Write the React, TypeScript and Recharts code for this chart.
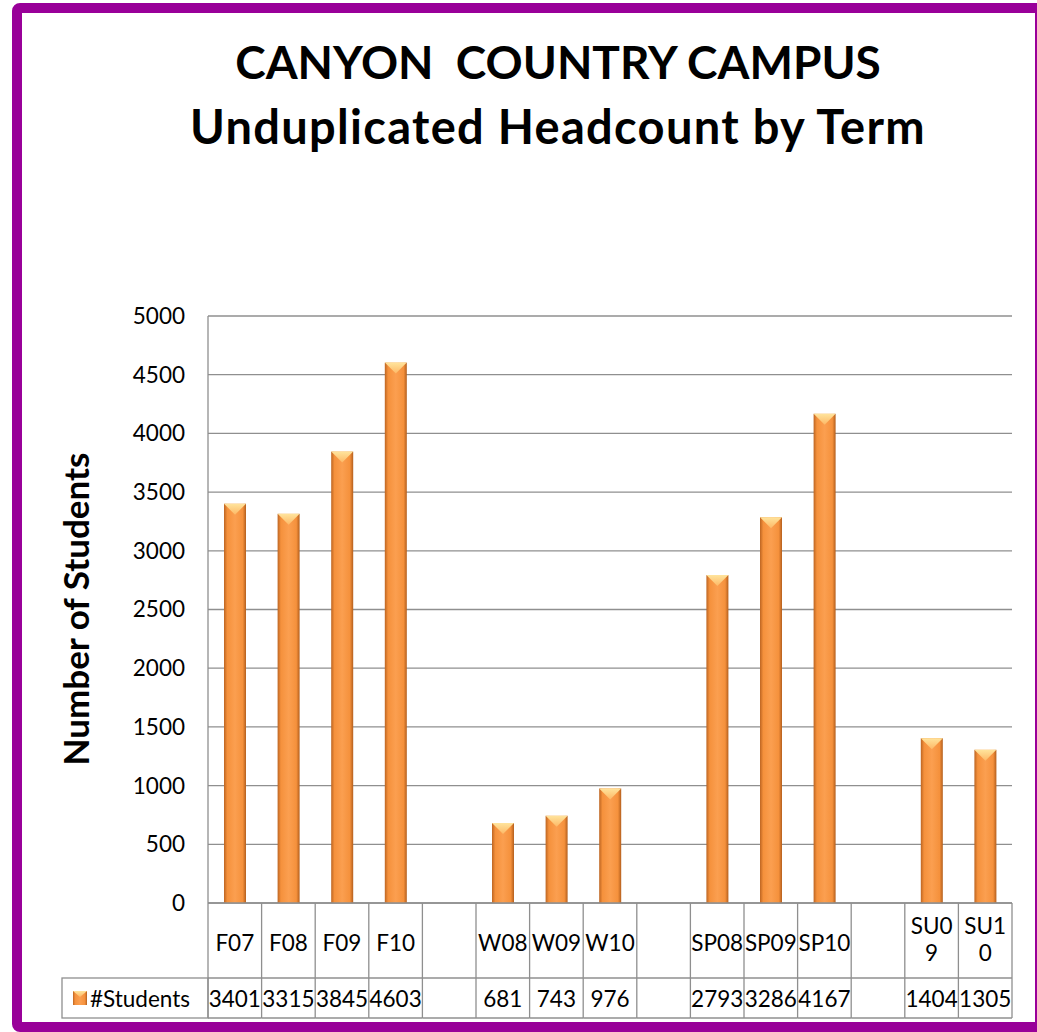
import { Bar, BarChart, CartesianGrid, XAxis, YAxis } from "recharts";

const TERMS = ["F07", "F08", "F09", "F10", "", "W08", "W09", "W10", "", "SP08", "SP09", "SP10", "", "SU09", "SU10"];
const STUDENTS: (number | null)[] = [3401, 3315, 3845, 4603, null, 681, 743, 976, null, 2793, 3286, 4167, null, 1404, 1305];
const Y_TICKS = [0, 500, 1000, 1500, 2000, 2500, 3000, 3500, 4000, 4500, 5000];
const SERIES_NAME = "#Students";

const W = 1037;
const H = 1032;
const Y_W = 208;
const MARGIN = { top: 316, right: 25, bottom: 14, left: 0 };
const BAND = (W - MARGIN.left - Y_W - MARGIN.right) / TERMS.length;
const ROW1 = 75; // category row
const ROW2 = 40; // value row
const LEGEND_X = 62;

const FONT = "Lato, 'Open Sans', sans-serif";
const LINE = "#8f8f8f";
const PURPLE = "#990099";
const TXT = 22.5;

const rows = TERMS.map((term, i) => ({ term, students: STUDENTS[i] }));

// Excel wraps labels that don't fit their cell
const wrap = (s: string) => (s.startsWith("SU") ? [s.slice(0, 3), s.slice(3)] : [s]);

function BevelBar(props: any) {
  const { x, y, width, height } = props;
  if (!height || height <= 0) return null;
  const tip = Math.min(11, height / 2);
  return (
    <g>
      <rect x={x} y={y} width={width} height={height} fill="url(#barBody)" />
      <polygon points={`${x},${y} ${x + width},${y} ${x + width / 2},${y + tip}`} fill="url(#barTop)" />
    </g>
  );
}

function TableTick(props: any) {
  const { x, y, payload } = props;
  const i = payload.index ?? props.index;
  const l = x - BAND / 2;
  const r = x + BAND / 2;
  const v = STUDENTS[i];
  const lines = wrap(String(payload.value));
  const txt = { fontFamily: FONT, fontSize: TXT, fill: "#000", textAnchor: "middle" as const };
  return (
    <g>
      <line x1={l} x2={l} y1={y} y2={y + ROW1 + ROW2} stroke={LINE} strokeWidth={1.3} />
      {i === TERMS.length - 1 && <line x1={r} x2={r} y1={y} y2={y + ROW1 + ROW2} stroke={LINE} strokeWidth={1.3} />}
      <line x1={l} x2={r} y1={y + ROW1} y2={y + ROW1} stroke={LINE} strokeWidth={1.3} />
      <line x1={l} x2={r} y1={y + ROW1 + ROW2} y2={y + ROW1 + ROW2} stroke={LINE} strokeWidth={1.3} />
      {lines.length === 1 ? (
        <text {...txt} x={x} y={y + 39} dominantBaseline="central">{lines[0]}</text>
      ) : (
        <>
          <text {...txt} x={x} y={y + 22} dominantBaseline="central">{lines[0]}</text>
          <text {...txt} x={x} y={y + 49} dominantBaseline="central">{lines[1]}</text>
        </>
      )}
      {v != null && (
        <text {...txt} x={x} y={y + ROW1 + 20} dominantBaseline="central">{v}</text>
      )}
      {i === 0 && (
        <g>
          <rect x={LEGEND_X} y={y + ROW1} width={l - LEGEND_X} height={ROW2} fill="none" stroke={LINE} strokeWidth={1.3} />
          <rect x={LEGEND_X + 11} y={y + ROW1 + 13} width={14} height={14} fill="url(#barBody)" />
          <polygon
            points={`${LEGEND_X + 11},${y + ROW1 + 13} ${LEGEND_X + 25},${y + ROW1 + 13} ${LEGEND_X + 18},${y + ROW1 + 19}`}
            fill="url(#barTop)"
          />
          <text x={LEGEND_X + 28} y={y + ROW1 + 20} dominantBaseline="central" fontFamily={FONT} fontSize={TXT} fill="#000">
            {SERIES_NAME}
          </text>
        </g>
      )}
    </g>
  );
}

export default function App() {
  return (
    <div style={{ position: "absolute", left: 0, top: 0, width: W, height: H, background: "#fff", overflow: "hidden", fontFamily: FONT }}>
      <div
        style={{
          position: "absolute",
          left: 12,
          top: 3,
          width: 1033,
          height: 1029,
          boxSizing: "border-box",
          border: `10px solid ${PURPLE}`,
          borderRadius: 8,
        }}
      />
      <div style={{ position: "absolute", left: 0, width: 1116, top: 30, textAlign: "center", fontWeight: 700, lineHeight: "64px", color: "#000" }}>
        <div style={{ whiteSpace: "pre", fontSize: 46 }}>CANYON  COUNTRY CAMPUS</div>
        <div style={{ fontSize: 47, letterSpacing: 1.3 }}>Unduplicated Headcount by Term</div>
      </div>
      <div
        style={{
          position: "absolute",
          left: 75,
          top: 609,
          transform: "translate(-50%, -50%) rotate(-90deg)",
          whiteSpace: "nowrap",
          fontWeight: 700,
          fontSize: 35,
          color: "#000",
        }}
      >
        Number of Students
      </div>
      <div style={{ position: "absolute", left: 0, top: 0 }}>
        <BarChart width={W} height={H} data={rows} margin={MARGIN}>
          <defs>
            <linearGradient id="barBody" x1="0" y1="0" x2="1" y2="0">
              <stop offset="0%" stopColor="#bd6522" />
              <stop offset="15%" stopColor="#f5913c" />
              <stop offset="50%" stopColor="#fb9f50" />
              <stop offset="85%" stopColor="#f5913c" />
              <stop offset="100%" stopColor="#b45f1d" />
            </linearGradient>
            <linearGradient id="barTop" x1="0" y1="0" x2="0" y2="1">
              <stop offset="0%" stopColor="#ffe49c" />
              <stop offset="100%" stopColor="#fdb866" />
            </linearGradient>
          </defs>
          <CartesianGrid vertical={false} stroke={LINE} strokeWidth={1.3} />
          <XAxis
            dataKey="term"
            interval={0}
            tickLine={false}
            tickSize={0}
            tickMargin={0}
            height={ROW1 + ROW2}
            axisLine={{ stroke: LINE, strokeWidth: 1.3 }}
            tick={<TableTick />}
          />
          <YAxis
            type="number"
            domain={[0, 5000]}
            ticks={Y_TICKS}
            interval={0}
            width={Y_W}
            tickLine={false}
            tickSize={0}
            tickMargin={23}
            axisLine={{ stroke: LINE, strokeWidth: 1.3 }}
            tick={{ fill: "#000", fontSize: TXT, fontFamily: FONT }}
          />
          <Bar dataKey="students" barSize={22} shape={<BevelBar />} isAnimationActive={false} />
        </BarChart>
      </div>
    </div>
  );
}
